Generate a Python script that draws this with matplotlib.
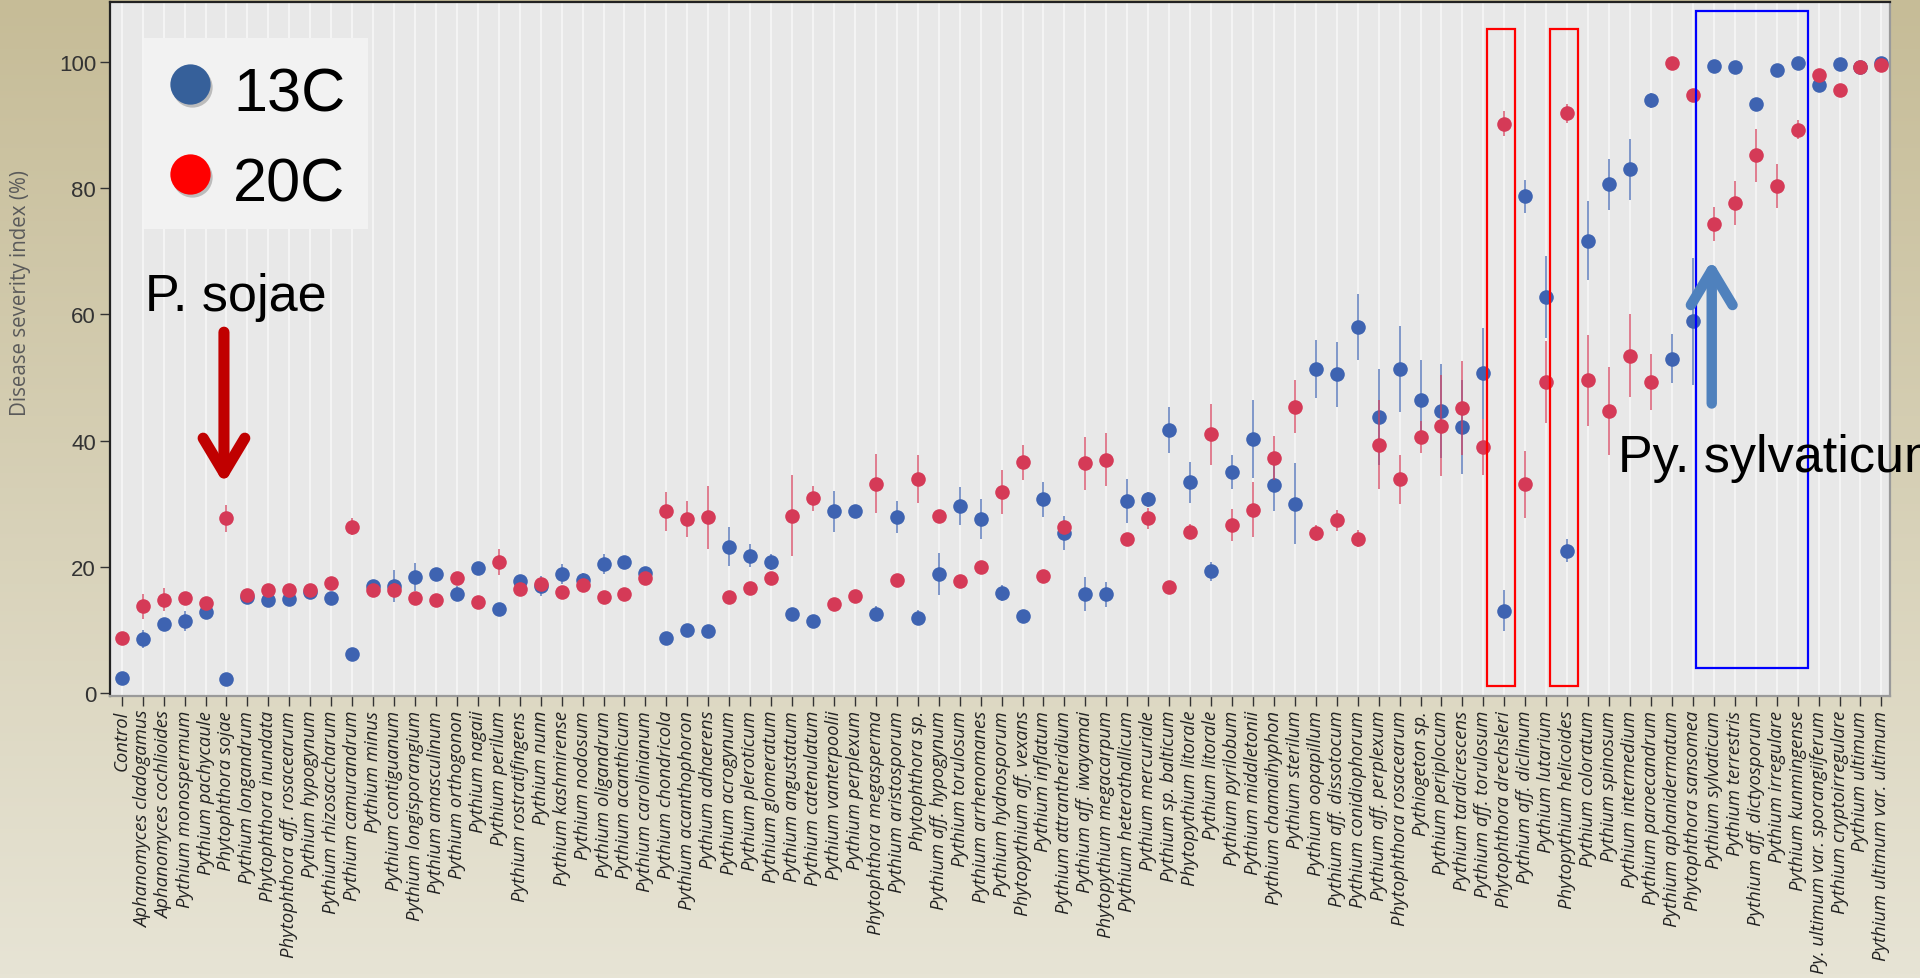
import matplotlib.pyplot as plt
import matplotlib.colors as mcolors
import numpy as np
from matplotlib.lines import Line2D
from matplotlib.patches import Rectangle, FancyArrowPatch, ArrowStyle

categories = [
    "Control", "Aphanomyces cladogamus", "Aphanomyces cochlioides", "Pythium monospermum",
    "Pythium pachycaule", "Phytophthora sojae", "Pythium longandrum", "Phytophthora inundata",
    "Phytophthora aff. rosacearum", "Pythium hypogynum", "Pythium rhizosaccharum",
    "Pythium camurandrum", "Pythium minus", "Pythium contiguanum", "Pythium longisporangium",
    "Pythium amasculinum", "Pythium orthogonon", "Pythium nagaii", "Pythium perilum",
    "Pythium rostratifingens", "Pythium nunn", "Pythium kashmirense", "Pythium nodosum",
    "Pythium oligandrum", "Pythium acanthicum", "Pythium carolinianum", "Pythium chondricola",
    "Pythium acanthophoron", "Pythium adhaerens", "Pythium acrogynum", "Pythium pleroticum",
    "Pythium glomeratum", "Pythium angustatum", "Pythium catenulatum", "Pythium vanterpoolii",
    "Pythium perplexum", "Phytophthora megasperma", "Pythium aristosporum", "Phytophthora sp.",
    "Pythium aff. hypogynum", "Pythium torulosum", "Pythium arrhenomanes", "Pythium hydnosporum",
    "Phytopythium aff. vexans", "Pythium inflatum", "Pythium attrantheridium",
    "Pythium aff. iwayamai", "Phytopythium megacarpum", "Pythium heterothallicum",
    "Pythium mercuriale", "Pythium sp. balticum", "Phytopythium litorale", "Pythium litorale",
    "Pythium pyrilobum", "Pythium middletonii", "Pythium chamaihyphon", "Pythium sterilum",
    "Pythium oopapillum", "Pythium aff. dissotocum", "Pythium conidiophorum",
    "Pythium aff. perplexum", "Phytophthora rosacearum", "Pythiogeton sp.", "Pythium periplocum",
    "Pythium tardicrescens", "Pythium aff. torulosum", "Phytophthora drechsleri",
    "Pythium aff. diclinum", "Pythium lutarium", "Phytopythium helicoides", "Pythium coloratum",
    "Pythium spinosum", "Pythium intermedium", "Pythium paroecandrum", "Pythium aphanidermatum",
    "Phytophthora sansomea", "Pythium sylvaticum", "Pythium terrestris",
    "Pythium aff. dictyosporum", "Pythium irregulare", "Pythium kunmingense",
    "Py. ultimum var. sporangiiferum", "Pythium cryptoirregulare", "Pythium ultimum",
    "Pythium ultimum var. ultimum",
]

dsi_13c = [
    2.5, 8.6, 11.0, 11.5, 12.9, 2.3, 15.3, 14.7, 15.0, 16.0,
    15.1, 6.2, 17.0, 17.0, 18.4, 18.9, 15.8, 19.8, 13.4, 17.8,
    17.0, 18.9, 18.0, 20.5, 20.8, 19.1, 8.7, 10.1, 9.9, 23.2,
    21.8, 20.8, 12.6, 11.5, 28.8, 28.8, 12.6, 27.9, 12.0, 18.9,
    29.7, 27.6, 15.9, 12.2, 30.7, 25.4, 15.7, 15.7, 30.4, 30.7,
    41.7, 33.4, 19.3, 35.1, 40.3, 33.0, 30.0, 51.4, 50.5, 58.0,
    43.8, 51.4, 46.4, 44.7, 42.2, 50.7, 13.1, 78.7, 62.7, 22.6,
    71.7, 80.6, 83.0, 93.9, 53.0, 58.9, 99.4, 99.2, 93.3, 98.8,
    99.9, 96.4, 99.6, 99.2, 99.8,
]
err_13c = [
    0.3, 1.4, 0.5, 1.6, 0.5, 0.3, 0.5, 0.8, 0.8, 1.0,
    0.8, 0.3, 1.0, 2.5, 2.2, 1.0, 1.2, 0.8, 0.5, 0.8,
    1.6, 1.6, 1.0, 1.6, 0.8, 0.8, 0.5, 0.8, 0.8, 3.1,
    1.8, 1.2, 0.5, 0.5, 3.3, 0.8, 1.2, 2.5, 1.2, 3.4,
    3.0, 3.1, 1.3, 1.0, 2.7, 2.7, 2.7, 2.0, 3.5, 1.2,
    3.6, 3.2, 1.5, 2.7, 6.2, 4.1, 6.4, 4.6, 5.2, 5.2,
    7.6, 6.8, 6.4, 7.5, 7.4, 7.2, 3.2, 2.6, 6.5, 1.8,
    6.3, 4.1, 4.8, 1.2, 3.9, 10.0, 0.3, 0.3, 1.0, 0.3,
    0.3, 0.5, 0.3, 0.3, 0.3,
]
dsi_20c = [
    8.8, 13.8, 14.8, 15.1, 14.3, 27.7, 15.5, 16.4, 16.4, 16.3,
    17.5, 26.4, 16.4, 16.4, 15.1, 14.8, 18.2, 14.5, 20.8, 16.5,
    17.3, 16.1, 17.1, 15.3, 15.8, 18.2, 28.8, 27.6, 27.9, 15.2,
    16.7, 18.2, 28.1, 30.9, 14.1, 15.4, 33.2, 18.0, 33.9, 28.1,
    17.8, 20.0, 31.9, 36.6, 18.5, 26.3, 36.4, 37.0, 24.4, 27.7,
    16.8, 25.6, 41.0, 26.7, 29.1, 37.3, 45.4, 25.4, 27.4, 24.5,
    39.4, 33.9, 40.6, 42.4, 45.2, 39.0, 90.2, 33.1, 49.3, 91.9,
    49.6, 44.7, 53.5, 49.3, 99.9, 94.7, 74.4, 77.7, 85.2, 80.4,
    89.3, 98.0, 95.5, 99.2, 99.5,
]
err_20c = [
    0.3, 2.0, 1.8, 1.0, 0.5, 2.1, 0.5, 0.5, 0.8, 0.5,
    0.5, 1.3, 0.8, 1.0, 0.8, 0.5, 0.5, 0.5, 2.0, 0.5,
    0.5, 0.5, 0.8, 0.5, 0.5, 1.0, 3.1, 2.8, 5.0, 0.5,
    0.5, 0.5, 6.4, 2.0, 0.5, 0.5, 4.7, 0.5, 3.8, 0.8,
    0.5, 0.8, 3.5, 2.8, 0.5, 1.0, 4.2, 4.2, 1.0, 1.6,
    0.5, 1.2, 4.9, 2.5, 4.4, 3.5, 4.2, 1.2, 1.7, 1.4,
    7.0, 3.9, 2.5, 8.0, 7.5, 4.4, 2.0, 5.3, 6.5, 1.5,
    7.2, 7.0, 6.6, 4.4, 0.3, 1.0, 2.7, 3.5, 4.2, 3.5,
    1.5, 0.3, 0.3, 0.3, 0.3,
]

series_labels = ["13C", "20C"]
y_ticks = [0, 20, 40, 60, 80, 100]

W, H = 1920, 979
BLUE = "#3e63b1"
RED = "#d53a57"


def fpos(x, y):
    """figure pixel (from top-left) -> figure fraction"""
    return x / W, 1 - y / H


fig = plt.figure(figsize=(W / 100, H / 100), dpi=100)

# slide-like background gradient
bg = fig.add_axes([0, 0, 1, 1], zorder=-10)
top = np.array(mcolors.to_rgb("#c6bc97"))
bot = np.array(mcolors.to_rgb("#e7e4d5"))
t = np.linspace(0, 1, 256)[:, None]
grad = (top * (1 - t) + bot * t)[:, None, :]
bg.imshow(grad, aspect="auto", extent=[0, 1, 0, 1])
bg.set_axis_off()

ax = fig.add_axes([110 / W, 1 - 697 / H, 1780 / W, 694 / H])
ax.set_facecolor("#e8e8e8")
x = np.arange(len(categories))

ax.errorbar(x, dsi_13c, yerr=err_13c, fmt="o", ms=10.5, mew=0, color=BLUE,
            ecolor=mcolors.to_rgba(BLUE, 0.75), elinewidth=1.2, capsize=3.5, capthick=1.2, zorder=3)
ax.errorbar(x, dsi_20c, yerr=err_20c, fmt="o", ms=10.5, mew=0, color=RED,
            ecolor=mcolors.to_rgba(RED, 0.75), elinewidth=1.2, capsize=3.5, capthick=1.2, zorder=4)

ax.set_xlim(-0.56, 84.41)
ax.set_ylim(-0.43, 109.5)
ax.set_xticks(x)
ax.set_xticklabels(categories, rotation=90, fontsize=13.3, fontstyle="italic",
                   family="Open Sans", color="#222222")
ax.set_yticks(y_ticks)
ax.set_yticklabels([str(v) for v in y_ticks], fontsize=16, family="Liberation Sans", color="#333333")
ax.tick_params(axis="x", length=7, width=1, color="#333333", pad=3)
ax.tick_params(axis="y", length=7, width=1, color="#333333", pad=3)
ax.set_axisbelow(True)
ax.grid(axis="x", color="#f6f6f6", lw=1.3)
ax.grid(axis="y", visible=False)
for side in ("top", "left"):
    ax.spines[side].set_color("#222222")
    ax.spines[side].set_linewidth(1.6)
for side in ("right", "bottom"):
    ax.spines[side].set_color("#9a9a9a")
    ax.spines[side].set_linewidth(1.6)

fig.text(*fpos(21, 293), "Disease severity index (%)", rotation=90, ha="center", va="center",
         fontsize=14.8, color="#5a5a5a", family="Open Sans")

# highlight boxes
for name in ("Phytophthora drechsleri", "Phytopythium helicoides"):
    i = categories.index(name)
    ax.add_patch(Rectangle((i - 0.83, 1.2), 1.36, 104, fill=False, ec="#ff0000", lw=1.6,
                           clip_on=False, zorder=6))
i0 = categories.index("Pythium sylvaticum")
i1 = categories.index("Pythium kunmingense")
ax.add_patch(Rectangle((i0 - 0.87, 4.0), i1 - i0 + 1.35, 104.1, fill=False, ec="#0000ff",
                       lw=1.6, clip_on=False, zorder=6))

# arrows
i_soj = categories.index("Phytophthora sojae")
ax.add_patch(FancyArrowPatch((i_soj - 0.12, 57.2), (i_soj - 0.12, 33.2),
                             arrowstyle=ArrowStyle("->", head_length=25, head_width=15),
                             mutation_scale=1, lw=8, color="#c00000", capstyle="round",
                             joinstyle="round", shrinkA=0, shrinkB=0, zorder=7))
ax.add_patch(FancyArrowPatch((i0 - 0.1, 45.9), (i0 - 0.1, 68.6),
                             arrowstyle=ArrowStyle("->", head_length=25, head_width=15),
                             mutation_scale=1, lw=7.5, color="#4f81bd", capstyle="round",
                             joinstyle="round", shrinkA=0, shrinkB=0, zorder=7))

# annotation texts
fig.text(*fpos(145, 311), "P. sojae", fontsize=37.5, family="Liberation Sans", va="baseline")
fig.text(*fpos(1618, 472), "Py. sylvaticum", fontsize=37.5, family="Liberation Sans",
         va="baseline")

# legend panel
fig.add_artist(Rectangle(fpos(144, 230), 224 / W, 191 / H, transform=fig.transFigure,
                         facecolor="#f2f2f2", edgecolor="none", zorder=8))
for (cy, col), lab in zip([(85, "#36609a"), (175, "#ff0000")], series_labels):
    fig.add_artist(Line2D([fpos(192, cy + 3)[0]], [fpos(192, cy + 3)[1]], marker="o", ms=29,
                          mew=0, color="#999999", alpha=0.6, transform=fig.transFigure, zorder=9))
    fig.add_artist(Line2D([fpos(190, cy)[0]], [fpos(190, cy)[1]], marker="o", ms=29, mew=0,
                          color=col, transform=fig.transFigure, zorder=10))
    fig.text(*fpos(233, cy + 27), lab, fontsize=44, family="Liberation Sans", va="baseline",
             zorder=10)

fig.savefig("out.png", dpi=100)
